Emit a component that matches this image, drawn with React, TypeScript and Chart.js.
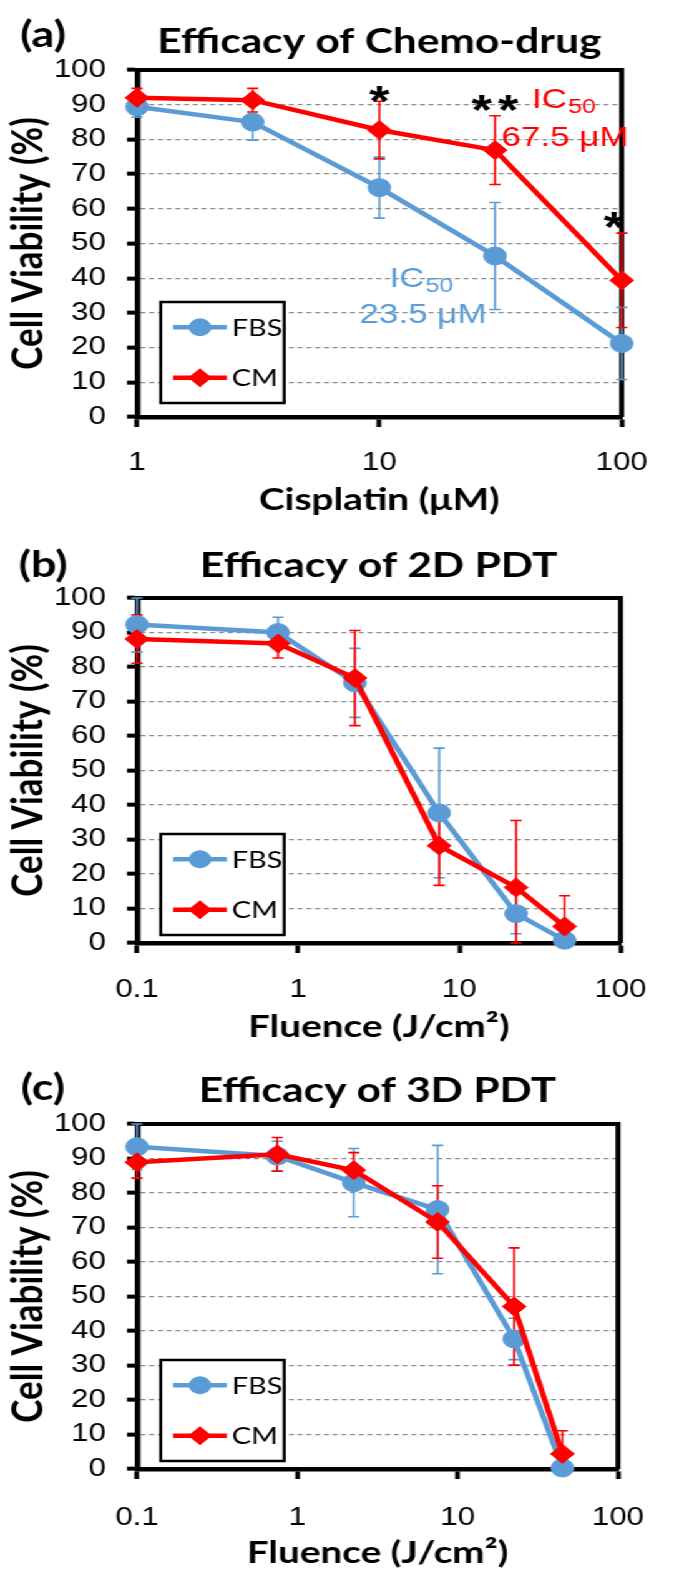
import React, { useEffect, useRef } from 'react';
import { Chart, registerables } from 'chart.js';

Chart.register(...registerables);

// ---------------- data ----------------
const seriesLabels = ['FBS', 'CM'];
const yLabel = 'Cell Viability (%)';
const yTickValues = [0, 10, 20, 30, 40, 50, 60, 70, 80, 90, 100];

// (a) chemo-drug
const chemoTag = '(a)';
const chemoTitle = 'Efficacy of Chemo-drug';
const chemoXLabel = 'Cisplatin (μM)';
const cisplatinDose = [1, 3, 10, 30, 100];
const chemoXTicks = [1, 10, 100];
const chemoFBS = [89.4, 85, 66.1, 46.4, 21.2];
const chemoFBSErr = [3, 5.2, 8.8, 15.4, 10.4];
const chemoCM = [92, 91.3, 82.7, 76.9, 39.4];
const chemoCMErr = [2.7, 3.4, 8.3, 9.9, 13.6];
const chemoStars = [
  { text: '*', x: 10, y: 94 },
  { text: '**', x: 30, y: 91.4 },
  { text: '*', x: 93, y: 57.6 },
];
const chemoIC50 = [
  { series: 1, x: 42.6, y: 89, valueX: 31.9, valueY: 78.1, value: '67.5 μM' },
  { series: 0, x: 11.0, y: 37.5, valueX: 8.28, valueY: 27.1, value: '23.5 μM' },
];

// (b), (c) PDT
const pdt2DTag = '(b)';
const pdt2DTitle = 'Efficacy of 2D PDT';
const pdt3DTag = '(c)';
const pdt3DTitle = 'Efficacy of 3D PDT';
const fluenceXLabel = 'Fluence (J/cm²)';
const fluenceDose = [0.1, 0.75, 2.25, 7.5, 22.5, 45];
const fluenceXTicks = [0.1, 1, 10, 100];
const pdt2DFBS = [92.3, 90, 75.4, 37.7, 8.5, 0.8];
const pdt2DFBSErr = [8, 4.4, 10, 18.8, 5.8, 1];
const pdt2DCM = [88.1, 86.8, 76.8, 28.2, 16.1, 4.8];
const pdt2DCMErr = [7, 4.2, 13.8, 11.5, 19.4, 8.9];
const pdt3DFBS = [93.4, 90.7, 83, 75.2, 37.7, 0.3];
const pdt3DFBSErr = [6.6, 4.3, 9.9, 18.6, 6, 1];
const pdt3DCM = [88.9, 91.2, 86.6, 71.6, 47.1, 4.4];
const pdt3DCMErr = [4.6, 4.9, 5.1, 10.5, 17, 6.7];

// ---------------- styling / layout ----------------
const BLUE = '#5B9BD5';
const RED = '#FF0000';
const W = 540;
const S = 674 / W; // horizontal stretch of the original figure
const CHART_LEFT = 137 / S;
const RIGHT_PAD = W - 649 / S;
const TICK_FONT = { family: 'Liberation Sans', size: 25 };
const TITLE_FONT = { family: 'Lato', weight: 'bold' as const, size: 34 };
const AXIS_TITLE_FONT = { family: 'Lato', weight: 'bold' as const, size: 31 };
const Y_TITLE_FONT = { family: 'Lato', weight: 'bold' as const, size: 35 };

Chart.defaults.color = '#000';

function drawMarker(ctx: CanvasRenderingContext2D, style: string, x: number, y: number, r: number, color: string) {
  ctx.fillStyle = color;
  ctx.beginPath();
  if (style === 'rectRot') {
    ctx.moveTo(x, y - r);
    ctx.lineTo(x + r, y);
    ctx.lineTo(x, y + r);
    ctx.lineTo(x - r, y);
    ctx.closePath();
  } else {
    ctx.arc(x, y, r, 0, Math.PI * 2);
  }
  ctx.fill();
}

const framePlugin = {
  id: 'frame',
  beforeDatasetsDraw(chart: any) {
    const { ctx, chartArea } = chart;
    const { left, right, top, bottom } = chartArea;
    ctx.save();
    ctx.strokeStyle = '#000';
    ctx.lineWidth = 4;
    ctx.beginPath();
    ctx.moveTo(left, top);
    ctx.lineTo(right, top);
    ctx.lineTo(right, bottom);
    ctx.stroke();
    ctx.restore();
  },
};

const errorBarPlugin = {
  id: 'errorBars',
  beforeDatasetsDraw(chart: any) {
    const { ctx } = chart;
    const xs = chart.scales.x;
    const ys = chart.scales.y;
    chart.data.datasets.forEach((ds: any) => {
      const errs = ds.errors;
      if (!errs) return;
      ctx.save();
      ctx.strokeStyle = ds.borderColor;
      ctx.lineWidth = 1.6;
      ds.data.forEach((p: any, i: number) => {
        const px = xs.getPixelForValue(p.x);
        const lo = Math.max(ys.min, p.y - errs[i]);
        const hi = Math.min(ys.max, p.y + errs[i]);
        const yLo = ys.getPixelForValue(lo);
        const yHi = ys.getPixelForValue(hi);
        const cap = 4.5;
        ctx.beginPath();
        ctx.moveTo(px, yLo);
        ctx.lineTo(px, yHi);
        ctx.moveTo(px - cap, yLo);
        ctx.lineTo(px + cap, yLo);
        ctx.moveTo(px - cap, yHi);
        ctx.lineTo(px + cap, yHi);
        ctx.stroke();
      });
      ctx.restore();
    });
  },
};

const boxLegendPlugin = {
  id: 'boxLegend',
  afterDatasetsDraw(chart: any, _args: any, opts: any) {
    const { ctx, chartArea } = chart;
    const w = 99;
    const h = 101;
    const bx = chartArea.left + 19;
    const by = chartArea.bottom - opts.gap - h;
    ctx.save();
    ctx.fillStyle = '#fff';
    ctx.fillRect(bx, by, w, h);
    ctx.strokeStyle = '#000';
    ctx.lineWidth = 2.5;
    ctx.strokeRect(bx, by, w, h);
    chart.data.datasets.forEach((ds: any, i: number) => {
      const ey = by + h * (0.25 + 0.5 * i);
      ctx.strokeStyle = ds.borderColor;
      ctx.lineWidth = ds.borderWidth;
      ctx.beginPath();
      ctx.moveTo(bx + 10, ey);
      ctx.lineTo(bx + 53, ey);
      ctx.stroke();
      drawMarker(ctx, ds.pointStyle, bx + 31.5, ey, ds.pointRadius, ds.borderColor);
      ctx.fillStyle = '#000';
      ctx.font = '23px Lato';
      ctx.textAlign = 'left';
      ctx.textBaseline = 'middle';
      ctx.fillText(ds.label, bx + 57, ey + 1);
    });
    ctx.restore();
  },
};

const annotationPlugin = {
  id: 'notes',
  afterDraw(chart: any, _args: any, opts: any) {
    const { ctx } = chart;
    const xs = chart.scales.x;
    const ys = chart.scales.y;
    ctx.save();
    // panel tag
    ctx.fillStyle = '#000';
    ctx.font = 'bold 36px Lato';
    ctx.textAlign = 'center';
    ctx.textBaseline = 'middle';
    ctx.fillText(opts.tag, 34.5, opts.tagY);
    // significance stars
    (opts.stars || []).forEach((s: any) => {
      const size = 42;
      ctx.font = `bold ${size}px "Liberation Sans"`;
      ctx.textAlign = 'center';
      ctx.textBaseline = 'alphabetic';
      (ctx as any).letterSpacing = s.text.length > 1 ? '5px' : '0px';
      const cx = xs.getPixelForValue(s.x) + (s.text.length > 1 ? 2.5 : 0);
      ctx.fillText(s.text, cx, ys.getPixelForValue(s.y) + 0.58 * size);
      (ctx as any).letterSpacing = '0px';
    });
    // IC50 labels
    (opts.ic50 || []).forEach((n: any) => {
      const color = chart.data.datasets[n.series].borderColor;
      ctx.fillStyle = color;
      ctx.textAlign = 'left';
      ctx.textBaseline = 'alphabetic';
      const x0 = xs.getPixelForValue(n.x);
      const y0 = ys.getPixelForValue(n.y);
      ctx.font = '28px "Liberation Sans"';
      ctx.fillText('IC', x0, y0);
      const wIC = ctx.measureText('IC').width;
      ctx.font = '20px "Liberation Sans"';
      ctx.fillText('50', x0 + wIC + 1, y0 + 5);
      ctx.font = '28px "Liberation Sans"';
      ctx.fillText(n.value, xs.getPixelForValue(n.valueX), ys.getPixelForValue(n.valueY));
    });
    ctx.restore();
  },
};

type PanelSpec = {
  tag: string;
  title: string;
  xLabel: string;
  dose: number[];
  xTicks: number[];
  fbs: number[];
  fbsErr: number[];
  cm: number[];
  cmErr: number[];
  stars?: any[];
  ic50?: any[];
  h: number;
  top: number;
  bottom: number;
  titleY: number;
  tagY: number;
  tickPad: number;
  xTitleY: number;
  legendGap: number;
};

const panels: PanelSpec[] = [
  {
    tag: chemoTag, title: chemoTitle, xLabel: chemoXLabel, dose: cisplatinDose, xTicks: chemoXTicks,
    fbs: chemoFBS, fbsErr: chemoFBSErr, cm: chemoCM, cmErr: chemoCMErr, stars: chemoStars, ic50: chemoIC50,
    h: 530, top: 70, bottom: 417, titleY: 42, tagY: 35, tickPad: 21, xTitleY: 500, legendGap: 14,
  },
  {
    tag: pdt2DTag, title: pdt2DTitle, xLabel: fluenceXLabel, dose: fluenceDose, xTicks: fluenceXTicks,
    fbs: pdt2DFBS, fbsErr: pdt2DFBSErr, cm: pdt2DCM, cmErr: pdt2DCMErr,
    h: 525, top: 68, bottom: 413, titleY: 36, tagY: 35, tickPad: 22, xTitleY: 497, legendGap: 8,
  },
  {
    tag: pdt3DTag, title: pdt3DTitle, xLabel: fluenceXLabel, dose: fluenceDose, xTicks: fluenceXTicks,
    fbs: pdt3DFBS, fbsErr: pdt3DFBSErr, cm: pdt3DCM, cmErr: pdt3DCMErr,
    h: 517, top: 69, bottom: 414, titleY: 36, tagY: 33, tickPad: 24, xTitleY: 500, legendGap: 8,
  },
];

function makeConfig(p: PanelSpec): any {
  const titleLH = TITLE_FONT.size * 1.2;
  const titlePadTop = p.titleY - titleLH / 2;
  const titlePadBottom = p.top - p.titleY - titleLH / 2;
  const xTitleLH = AXIS_TITLE_FONT.size * 1.2;
  const yTitleLH = Y_TITLE_FONT.size * 1.2;
  return {
    type: 'line',
    data: {
      datasets: [
        {
          label: seriesLabels[0],
          data: p.dose.map((x, i) => ({ x, y: p.fbs[i] })),
          errors: p.fbsErr,
          borderColor: BLUE,
          backgroundColor: BLUE,
          pointBackgroundColor: BLUE,
          pointBorderColor: BLUE,
          pointStyle: 'circle',
          pointRadius: 9,
          pointBorderWidth: 1,
          borderWidth: 4.5,
          order: 2,
          clip: false,
          tension: 0,
        },
        {
          label: seriesLabels[1],
          data: p.dose.map((x, i) => ({ x, y: p.cm[i] })),
          errors: p.cmErr,
          borderColor: RED,
          backgroundColor: RED,
          pointBackgroundColor: RED,
          pointBorderColor: RED,
          pointStyle: 'rectRot',
          pointRadius: 9.5,
          pointBorderWidth: 1,
          borderWidth: 4.5,
          order: 1,
          clip: false,
          tension: 0,
        },
      ],
    },
    options: {
      responsive: false,
      animation: false,
      devicePixelRatio: 1,
      events: [],
      layout: { padding: { left: 0, right: RIGHT_PAD, top: 0, bottom: 0 } },
      plugins: {
        legend: { display: false },
        tooltip: { enabled: false },
        title: {
          display: true,
          text: p.title,
          fullSize: false,
          color: '#000',
          font: TITLE_FONT,
          padding: { top: titlePadTop, bottom: titlePadBottom },
        },
        boxLegend: { gap: p.legendGap },
        notes: { tag: p.tag, tagY: p.tagY, stars: p.stars, ic50: p.ic50 },
      },
      scales: {
        x: {
          type: 'logarithmic',
          min: p.xTicks[0],
          max: p.xTicks[p.xTicks.length - 1],
          afterBuildTicks: (s: any) => {
            s.ticks = p.xTicks.map((v) => ({ value: v }));
          },
          afterFit: (s: any) => {
            s.height = p.h - p.bottom;
          },
          ticks: {
            callback: (v: any) => String(v),
            color: '#000',
            font: TICK_FONT,
            padding: p.tickPad,
            maxRotation: 0,
            autoSkip: false,
          },
          grid: {
            drawOnChartArea: false,
            drawTicks: true,
            tickLength: 10,
            tickWidth: 3.8,
            tickColor: '#000',
          },
          border: { display: true, color: '#000', width: 4.5 },
          title: {
            display: true,
            text: p.xLabel,
            color: '#000',
            font: AXIS_TITLE_FONT,
            padding: { top: 0, bottom: Math.max(0, p.h - p.xTitleY - xTitleLH / 2) },
          },
        },
        y: {
          type: 'linear',
          min: 0,
          max: 100,
          afterBuildTicks: (s: any) => {
            s.ticks = yTickValues.map((v) => ({ value: v }));
          },
          afterFit: (s: any) => {
            s.width = CHART_LEFT;
          },
          ticks: { color: '#000', font: TICK_FONT, padding: 16.9 },
          grid: {
            color: '#8c8c8c',
            lineWidth: 1.3,
            drawTicks: true,
            tickLength: 8,
            tickWidth: 4,
            tickColor: '#000',
            tickBorderDash: [],
          },
          border: { display: true, color: '#000', width: 4.5, dash: [4, 3] },
          title: {
            display: true,
            text: yLabel,
            color: '#000',
            font: Y_TITLE_FONT,
            padding: { top: Math.max(0, 22.4 - yTitleLH / 2), bottom: 0 },
          },
        },
      },
    },
    plugins: [framePlugin, errorBarPlugin, boxLegendPlugin, annotationPlugin],
  };
}

function Panel({ spec }: { spec: PanelSpec }) {
  const ref = useRef<HTMLCanvasElement>(null);
  useEffect(() => {
    if (!ref.current) return;
    const chart = new Chart(ref.current, makeConfig(spec));
    return () => chart.destroy();
  }, [spec]);
  return (
    <canvas
      ref={ref}
      width={W}
      height={spec.h}
      style={{ display: 'block', width: W, height: spec.h }}
    />
  );
}

export default function App() {
  return (
    <div
      style={{
        position: 'absolute',
        left: 0,
        top: 0,
        width: W,
        background: '#fff',
        transform: `scaleX(${S})`,
        transformOrigin: '0 0',
      }}
    >
      {panels.map((p) => (
        <Panel key={p.tag} spec={p} />
      ))}
    </div>
  );
}
